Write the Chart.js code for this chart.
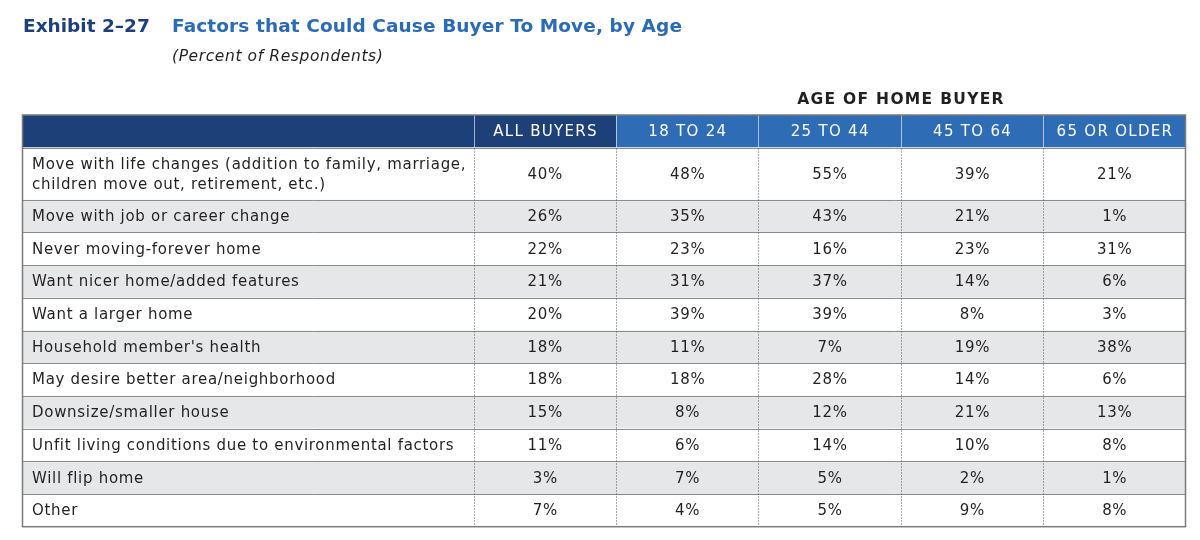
<!DOCTYPE html>
<html>
<head>
<meta charset="utf-8">
<script src="https://cdn.jsdelivr.net/npm/chart.js@4.4.1/dist/chart.umd.min.js"></script>
<style>
  html, body { margin: 0; padding: 0; background: #fff; }
  #wrap { position: relative; width: 1200px; height: 540px; }
  canvas { position: absolute; left: 0; top: 0; }
  .t { position: absolute; white-space: nowrap; font-family: 'DejaVu Sans', sans-serif; line-height: 1; }
  #ex  { left: 23px;  top: 17px; font-size: 18.5px; font-weight: 700; color: #1d3f7a; }
  #ti  { left: 172px; top: 17px; font-size: 18.5px; font-weight: 700; color: #2b6ab4; letter-spacing: 0.1px; }
  #sub { left: 172px; top: 49px; font-size: 15.5px; font-style: italic; color: #231f20; letter-spacing: 0.6px; }
  #age { left: 616px; width: 570px; text-align: center; top: 92px; font-size: 15.5px; font-weight: 700; color: #231f20; letter-spacing: 1.3px; }
</style>
</head>
<body>
<div id="wrap">
  <canvas id="table" width="1200" height="540"></canvas>
  <div class="t" id="ex">Exhibit 2–27</div>
  <div class="t" id="ti">Factors that Could Cause Buyer To Move, by Age</div>
  <div class="t" id="sub">(Percent of Respondents)</div>
  <div class="t" id="age">AGE OF HOME BUYER</div>
</div>
<script>
// ── Data ──
const factors = [
  ['Move with life changes (addition to family, marriage,', 'children move out, retirement, etc.)'],
  ['Move with job or career change'],
  ['Never moving-forever home'],
  ['Want nicer home/added features'],
  ['Want a larger home'],
  ["Household member's health"],
  ['May desire better area/neighborhood'],
  ['Downsize/smaller house'],
  ['Unfit living conditions due to environmental factors'],
  ['Will flip home'],
  ['Other'],
];
const columns   = ['ALL BUYERS', '18 TO 24', '25 TO 44', '45 TO 64', '65 OR OLDER'];
const allBuyers = [40, 26, 22, 21, 20, 18, 18, 15, 11, 3, 7];
const age18to24 = [48, 35, 23, 31, 39, 11, 18, 8, 6, 7, 4];
const age25to44 = [55, 43, 16, 37, 39, 7, 28, 12, 14, 5, 5];
const age45to64 = [39, 21, 23, 14, 8, 19, 14, 21, 10, 2, 9];
const age65plus = [21, 1, 31, 6, 3, 38, 6, 13, 8, 1, 8];
const series = [allBuyers, age18to24, age25to44, age45to64, age65plus];

// ── Style ──
const NAVY     = '#1d4079';
const BLUE     = '#2e6cb5';
const ROW_GRAY = '#e6e7e9';
const LINE     = '#8c8c8c';
const INK      = '#231f20';
const FONT     = "'DejaVu Sans', sans-serif";
const HEADER_H = 32.5;

// ── Table grid in scale units ──
const rowWeights = factors.map(f => f.length > 1 ? 1.6 : 1);
const rowEdges = [0];
rowWeights.forEach(w => rowEdges.push(rowEdges[rowEdges.length - 1] + w));
const LABEL_W = 3.17;
const colEdges = [0, LABEL_W];
columns.forEach(() => colEdges.push(colEdges[colEdges.length - 1] + 1));

const rowMid = i => (rowEdges[i] + rowEdges[i + 1]) / 2;
const colMid = c => (colEdges[c + 1] + colEdges[c + 2]) / 2;

const crisp = p => Math.round(p) + 0.5;

// ── Plugin: cell fills, rules, header, cell text ──
const tableGrid = {
  id: 'tableGrid',
  beforeDatasetsDraw(chart) {
    const { ctx, chartArea: a, scales: { x, y } } = chart;
    const hTop = a.top - HEADER_H;
    const xp = v => x.getPixelForValue(v);
    const yp = v => y.getPixelForValue(v);
    ctx.save();

    // header band
    ctx.fillStyle = NAVY;
    ctx.fillRect(a.left, hTop, xp(colEdges[2]) - a.left, HEADER_H);
    ctx.fillStyle = BLUE;
    ctx.fillRect(xp(colEdges[2]), hTop, a.right - xp(colEdges[2]), HEADER_H);

    // row stripes
    factors.forEach((f, i) => {
      ctx.fillStyle = i % 2 ? ROW_GRAY : '#ffffff';
      ctx.fillRect(a.left, yp(rowEdges[i]), a.right - a.left, yp(rowEdges[i + 1]) - yp(rowEdges[i]));
    });

    // header labels
    ctx.fillStyle = '#ffffff';
    ctx.font = '15px ' + FONT;
    ctx.letterSpacing = '1.3px';
    ctx.textAlign = 'center';
    ctx.textBaseline = 'middle';
    columns.forEach((c, k) => ctx.fillText(c, xp(colMid(k)) + 0.6, hTop + HEADER_H / 2 + 1));
    ctx.letterSpacing = '0px';

    // header separators
    ctx.strokeStyle = 'rgba(255,255,255,0.6)';
    ctx.lineWidth = 1;
    for (let k = 1; k < colEdges.length - 1; k++) {
      const px = crisp(xp(colEdges[k]));
      ctx.beginPath(); ctx.moveTo(px, hTop); ctx.lineTo(px, a.top); ctx.stroke();
    }

    // horizontal row rules
    ctx.strokeStyle = LINE;
    for (let i = 0; i < rowEdges.length - 1; i++) {
      const py = crisp(yp(rowEdges[i]));
      ctx.beginPath(); ctx.moveTo(a.left, py); ctx.lineTo(a.right, py); ctx.stroke();
    }

    // dotted column rules in body
    ctx.strokeStyle = '#555555';
    ctx.setLineDash([1, 2]);
    for (let k = 1; k < colEdges.length - 1; k++) {
      const px = crisp(xp(colEdges[k]));
      ctx.beginPath(); ctx.moveTo(px, a.top + 1); ctx.lineTo(px, a.bottom); ctx.stroke();
    }
    ctx.setLineDash([]);

    // outer border
    ctx.strokeStyle = '#7a7a7a';
    ctx.lineWidth = 1.5;
    ctx.strokeRect(a.left, hTop, a.right - a.left, a.bottom - hTop);
    ctx.restore();
  },

  afterDatasetsDraw(chart) {
    const { ctx } = chart;
    ctx.save();
    ctx.fillStyle = INK;
    ctx.font = '15px ' + FONT;
    ctx.letterSpacing = '0.7px';
    ctx.textBaseline = 'middle';
    chart.data.datasets.forEach((ds, d) => {
      const meta = chart.getDatasetMeta(d);
      meta.data.forEach((el, i) => {
        const lines = ds.data[i].text;
        ctx.textAlign = ds.align;
        const tx = ds.align === 'left' ? el.x + 9.5 : el.x + 0.4;
        lines.forEach((ln, j) => {
          ctx.fillText(ln, tx, el.y + 1 + (j - (lines.length - 1) / 2) * 20);
        });
      });
    });
    ctx.restore();
  },
};

// ── Datasets: the factor labels, then one text column per series ──
const datasets = [{
  label: 'Factor',
  align: 'left',
  data: factors.map((f, i) => ({ x: 0, y: rowMid(i), text: f })),
}].concat(series.map((vals, k) => ({
  label: columns[k],
  align: 'center',
  data: vals.map((v, i) => ({ x: colMid(k), y: rowMid(i), text: [v + '%'] })),
})));

new Chart(document.getElementById('table').getContext('2d'), {
  type: 'scatter',
  data: { datasets: datasets.map(d => Object.assign(d, { pointRadius: 0, pointHoverRadius: 0 })) },
  options: {
    responsive: false,
    animation: false,
    devicePixelRatio: 1,
    events: [],
    layout: { padding: { left: 22.5, right: 14.5, top: 147.5, bottom: 13.3 } },
    plugins: { legend: { display: false }, tooltip: { enabled: false } },
    scales: {
      x: { type: 'linear', display: false, min: 0, max: colEdges[colEdges.length - 1] },
      y: { type: 'linear', display: false, min: 0, max: rowEdges[rowEdges.length - 1], reverse: true },
    },
  },
  plugins: [tableGrid],
});
</script>
</body>
</html>
